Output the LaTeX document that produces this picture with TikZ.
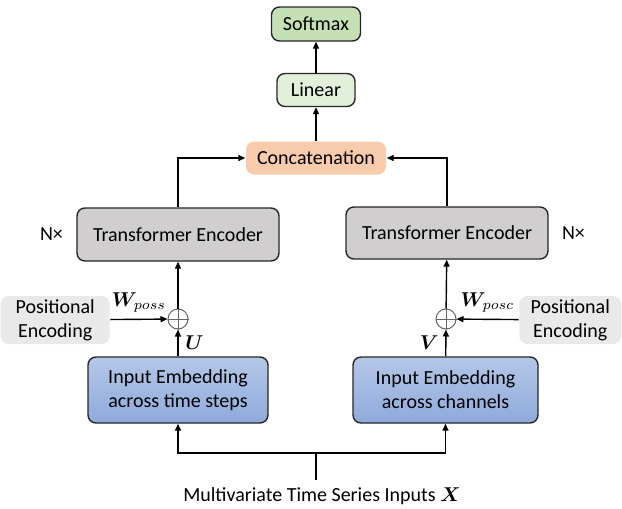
\documentclass[tikz,border=0pt]{standalone}
\usepackage{amsmath,amssymb,bm}
\usepackage{fontspec}
\setmainfont{Carlito}
\usetikzlibrary{positioning,shapes,arrows.meta}

\definecolor{softGreen}{HTML}{C5E0B4}
\definecolor{lightGreen}{HTML}{E2F0D9}
\definecolor{concatOrange}{HTML}{F8CBAD}
\definecolor{encGray}{HTML}{D0CECE}
\definecolor{peGray}{HTML}{E9E9E9}
\definecolor{embTop}{HTML}{B4C7E7}
\definecolor{embBot}{HTML}{8FAADC}

\begin{document}
\begin{tikzpicture}[x=0.5pt,y=-0.5pt,font=\fontsize{10}{12}\selectfont]
\tikzstyle{every path}=[line width=0.7pt]
\tikzstyle{block}=[draw=black!85,rounded corners=4pt,align=center,inner sep=0pt]
\tikzstyle{posenc}=[fill=peGray,rounded corners=4pt,align=center,minimum height=24pt,inner sep=0pt]
\tikzstyle{adder}=[circle,draw=black!60,line width=0.5pt,minimum size=10pt,inner sep=0pt]
\tikzstyle{flow}=[-{Triangle[length=3.5pt,width=3pt]}]

\useasboundingbox (0,0) rectangle (622,509);

%% Output head
\node [block,fill=softGreen,minimum width=44.5pt,minimum height=17pt] (softmax) at (316,24) {Softmax};
\node [block,fill=lightGreen,minimum width=39pt,minimum height=16.5pt] (linear) at (316,90) {Linear};
\node [block,draw=none,fill=concatOrange,minimum width=70pt,minimum height=16.5pt] (concat) at (316,158) {Concatenation};

%% Encoders
\node [block,fill=encGray,minimum width=101pt,minimum height=26.5pt] (encL) at (178,234.5) {Transformer Encoder};
\node [block,fill=encGray,minimum width=101pt,minimum height=26pt] (encR) at (447,233) {Transformer Encoder};
\node [left=3pt of encL] (nL) {N×};
\node [right=3pt of encR] (nR) {N×};

%% Positional encodings and adders
\node [posenc,anchor=west,minimum width=54.5pt] (peL) at (0,320) {Positional\\Encoding};
\node [posenc,anchor=east,minimum width=51pt] (peR) at (622,320) {Positional\\Encoding};
\node [adder] (addL) at (178,319) {};
\node [adder] (addR) at (446,319) {};
\draw [black!60,line width=0.5pt] (addL.north) -- (addL.south) (addL.west) -- (addL.east);
\draw [black!60,line width=0.5pt] (addR.north) -- (addR.south) (addR.west) -- (addR.east);

%% Input embeddings
\node [block,top color=embTop,bottom color=embBot,minimum width=90pt,minimum height=33pt] (embL) at (178,390) {Input Embedding\\across time steps};
\node [block,top color=embTop,bottom color=embBot,minimum width=92.5pt,minimum height=33pt] (embR) at (445.5,390) {Input Embedding\\across channels};

\node (inputs) at (322,496) {Multivariate Time Series Inputs $\bm{X}$};
\coordinate (split) at (316,453);

%% Connectors
\draw (split) -- (split |- inputs.north);
\draw [flow] (split) -| (embL.south);
\draw [flow] (split) -| (embR.south);
\draw [flow] (embL) -- node[right] {$\bm{U}$} (addL);
\draw [flow] (embR) -- node[left] {$\bm{V}$} (addR);
\draw [flow] (peL) -- node[above] {$\bm{W}_{poss}$} (addL);
\draw [flow] (peR) -- node[above] {$\bm{W}_{posc}$} (addR);
\draw [flow] (addL) -- (encL);
\draw [flow] (addR) -- (encR);
\draw [flow] (encL.north) |- (concat.west);
\draw [flow] (encR.north) |- (concat.east);
\draw [flow] (concat) -- (linear);
\draw [flow] (linear) -- (softmax);
\end{tikzpicture}
\end{document}
